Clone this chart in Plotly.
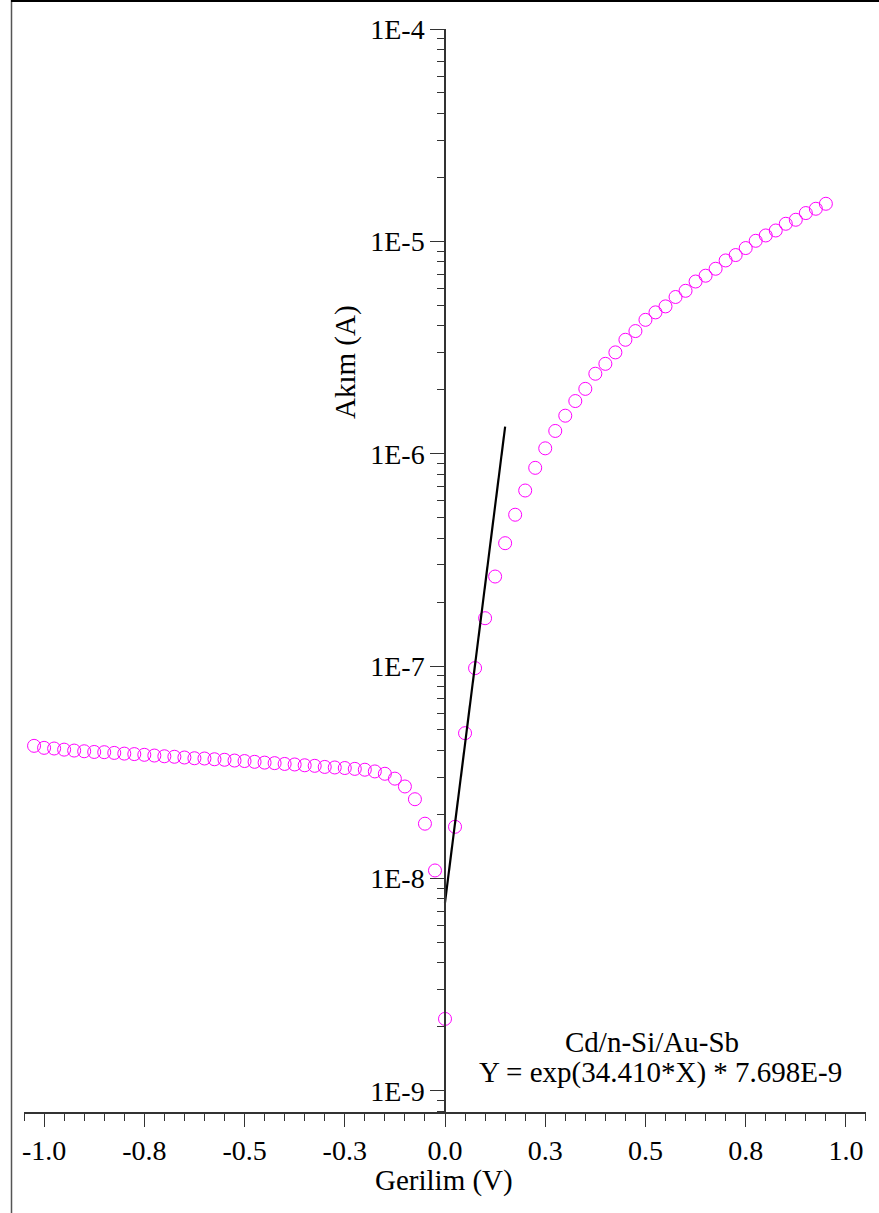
import math
import plotly.graph_objects as go

# Measured I-V data of the Cd/n-Si/Au-Sb diode
voltage = [
    -1.025, -1.000, -0.975, -0.950, -0.925, -0.900, -0.875, -0.850, -0.825, -0.800,
    -0.775, -0.750, -0.725, -0.700, -0.675, -0.650, -0.625, -0.600, -0.575, -0.550,
    -0.525, -0.500, -0.475, -0.450, -0.425, -0.400, -0.375, -0.350, -0.325, -0.300,
    -0.275, -0.250, -0.225, -0.200, -0.175, -0.150, -0.125, -0.100, -0.075, -0.050,
    -0.025, 0.000, 0.025, 0.050, 0.075, 0.100, 0.125, 0.150, 0.175, 0.200,
    0.225, 0.250, 0.275, 0.300, 0.325, 0.350, 0.375, 0.400, 0.425, 0.450,
    0.475, 0.500, 0.525, 0.550, 0.575, 0.600, 0.625, 0.650, 0.675, 0.700,
    0.725, 0.750, 0.775, 0.800, 0.825, 0.850, 0.875, 0.900, 0.925, 0.950,
]
current = [
    4.21e-8, 4.12e-8, 4.09e-8, 4.04e-8, 4.00e-8, 3.97e-8, 3.94e-8, 3.93e-8, 3.90e-8, 3.87e-8,
    3.85e-8, 3.82e-8, 3.79e-8, 3.76e-8, 3.74e-8, 3.71e-8, 3.68e-8, 3.67e-8, 3.64e-8, 3.62e-8,
    3.59e-8, 3.57e-8, 3.54e-8, 3.51e-8, 3.49e-8, 3.46e-8, 3.44e-8, 3.41e-8, 3.39e-8, 3.35e-8,
    3.33e-8, 3.31e-8, 3.28e-8, 3.25e-8, 3.19e-8, 3.11e-8, 2.95e-8, 2.71e-8, 2.36e-8, 1.81e-8,
    1.09e-8, 2.18e-9, 1.75e-8, 4.83e-8, 9.78e-8, 1.68e-7, 2.64e-7, 3.79e-7, 5.16e-7, 6.71e-7,
    8.58e-7, 1.06e-6, 1.28e-6, 1.51e-6, 1.77e-6, 2.02e-6, 2.38e-6, 2.65e-6, 3.00e-6, 3.44e-6,
    3.78e-6, 4.27e-6, 4.63e-6, 4.94e-6, 5.47e-6, 5.85e-6, 6.47e-6, 6.89e-6, 7.43e-6, 8.13e-6,
    8.62e-6, 9.30e-6, 1.006e-5, 1.066e-5, 1.125e-5, 1.210e-5, 1.264e-5, 1.359e-5, 1.424e-5, 1.503e-5,
]

# Exponential fit  Y = exp(a*X) * I0  over the low-bias region
fit_slope = 34.410
fit_prefactor = 7.698e-9
fit_x = [0.0, 0.150]
fit_y = [math.exp(fit_slope * v) * fit_prefactor for v in fit_x]

sample_label = "Cd/n-Si/Au-Sb"
fit_label = "Y = exp(34.410*X) * 7.698E-9"

x_tickvals = [-1.0, -0.75, -0.5, -0.25, 0.0, 0.25, 0.5, 0.75, 1.0]
x_ticktext = ["-1.0", "-0.8", "-0.5", "-0.3", "0.0", "0.3", "0.5", "0.8", "1.0"]
y_tickvals = [1e-9, 1e-8, 1e-7, 1e-6, 1e-5, 1e-4]
y_ticktext = ["1E-9", "1E-8", "1E-7", "1E-6", "1E-5", "1E-4"]
y_minor = [k * 10.0 ** e for e in range(-10, -4) for k in range(2, 10)]

FONT = "Liberation Serif, Times New Roman, serif"
AXIS = "#333333"

fig = go.Figure()
fig.add_trace(go.Scatter(
    x=voltage, y=current, mode="markers",
    marker=dict(symbol="circle-open", size=13, color="#FF00FF",
                line=dict(color="#FF00FF", width=1)),
    showlegend=False, hoverinfo="skip",
))
fig.add_trace(go.Scatter(
    x=fit_x, y=fit_y, mode="lines",
    line=dict(color="black", width=2.2),
    showlegend=False, hoverinfo="skip",
))

W, H = 879, 1213
ML, MR, MT, MB = 24, 13, 29, 101
PW, PH = W - ML - MR, H - MT - MB


def px(x):
    return (x - ML) / PW


def py(y):
    return (H - MB - y) / PH


fig.update_layout(
    width=W, height=H, autosize=False,
    margin=dict(l=ML, r=MR, t=MT, b=MB, pad=0),
    paper_bgcolor="white", plot_bgcolor="white",
    font=dict(family=FONT, color="black", size=28),
    showlegend=False,
    xaxis=dict(
        range=[-1.0501, 1.0501], showgrid=False, zeroline=False,
        showline=True, linecolor=AXIS, linewidth=1.5,
        ticks="outside", ticklen=13, tickwidth=1.2, tickcolor=AXIS,
        tickmode="array", tickvals=x_tickvals, ticktext=x_ticktext,
        tickfont=dict(family=FONT, size=28, color="black"),
        minor=dict(ticks="outside", ticklen=7, tickwidth=1.2, tickcolor=AXIS,
                   tick0=0, dtick=0.05, showgrid=False),
    ),
    yaxis=dict(
        type="log", range=[-9.1, -4.0], showgrid=False, zeroline=False,
        anchor="free", position=0.5,
        showline=True, linecolor=AXIS, linewidth=1.5,
        ticks="outside", ticklen=14, tickwidth=1.2, tickcolor=AXIS,
        tickmode="array", tickvals=y_tickvals, ticktext=y_ticktext,
        tickfont=dict(family=FONT, size=28, color="black"),
        minor=dict(ticks="outside", ticklen=7, tickwidth=1.2, tickcolor=AXIS,
                   tickmode="array", tickvals=y_minor, showgrid=False),
    ),
    annotations=[
        dict(text="Akım (A)", textangle=-90, xref="paper", yref="paper",
             x=px(346), y=py(362), xanchor="center", yanchor="middle",
             showarrow=False, font=dict(family=FONT, size=29, color="black")),
        dict(text="Gerilim (V)", xref="paper", yref="paper",
             x=px(444), y=py(1180), xanchor="center", yanchor="middle",
             showarrow=False, font=dict(family=FONT, size=29, color="black")),
        dict(text=sample_label, xref="paper", yref="paper",
             x=px(652), y=py(1042), xanchor="center", yanchor="middle",
             showarrow=False, font=dict(family=FONT, size=29, color="black")),
        dict(text=fit_label, xref="paper", yref="paper",
             x=px(660), y=py(1072), xanchor="center", yanchor="middle",
             showarrow=False, font=dict(family=FONT, size=29, color="black")),
    ],
    shapes=[
        # outer frame: left and top edges
        dict(type="line", xref="paper", yref="paper",
             x0=px(11.5), x1=px(11.5), y0=py(0), y1=py(H + 2),
             line=dict(color="#555555", width=1.5)),
        dict(type="line", xref="paper", yref="paper",
             x0=px(11), x1=px(W + 2), y0=py(1), y1=py(1),
             line=dict(color="black", width=2)),
    ],
)

fig.write_html("out.html")
